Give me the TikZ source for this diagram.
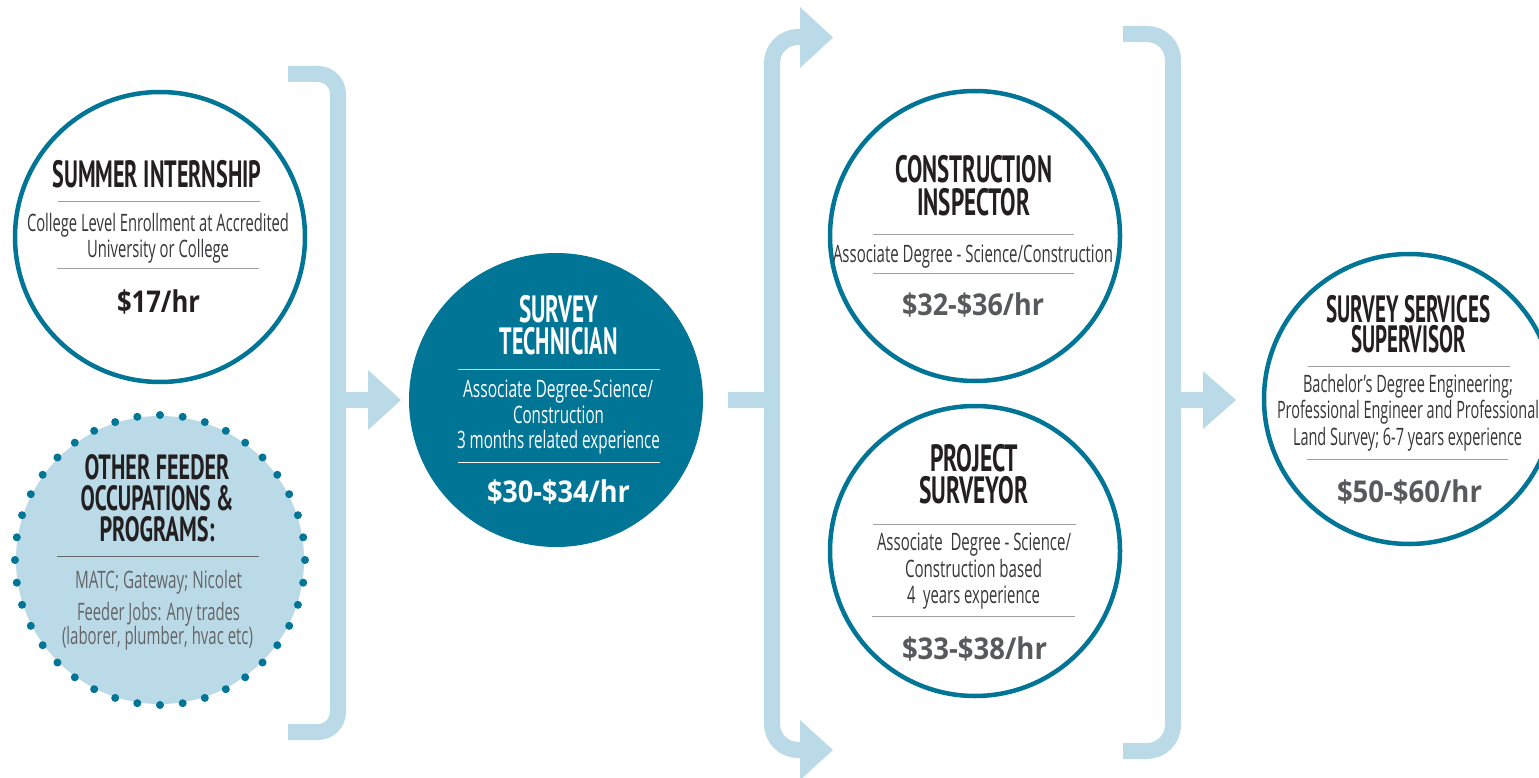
\documentclass[tikz,border=0pt]{standalone}
\usepackage{fontspec}
\usepackage{graphicx}
\newfontfamily\headfont{PT Sans}
\newfontfamily\bodyfont{Open Sans}
\definecolor{teal}{RGB}{0,117,150}
\definecolor{lblue}{RGB}{185,218,230}
\definecolor{headc}{RGB}{35,31,32}
\definecolor{bodyc}{RGB}{55,55,57}
\definecolor{feedc}{RGB}{100,101,104}
\definecolor{pricec}{RGB}{88,89,91}
\definecolor{rulec}{RGB}{160,160,163}
\newsavebox\fitbox
\newlength\fitlen
\newcommand\fitw[2]{\sbox\fitbox{#2}\setlength\fitlen{\wd\fitbox}\pgfmathsetmacro\fitsc{#1/\fitlen}\scalebox{\fitsc}[1]{\usebox\fitbox}}
\tikzset{
  ring/.style={circle, draw=teal, line width=4.5pt, fill=white, inner sep=0pt, minimum size=290pt},
  bar/.style={draw=lblue, line width=16pt, rounded corners=20pt},
  head/.style={fill=lblue},
  hd/.style={anchor=south, inner sep=0pt, text depth=0pt, align=center, text=headc, font={\fontsize{38}{32}\headfont\bfseries}},
  bd/.style={anchor=base, inner sep=0pt, text=bodyc, font={\fontsize{24}{24}\bodyfont}},
  pr/.style={anchor=base, inner sep=0pt, text=pricec, font={\fontsize{30}{30}\bodyfont\bfseries}},
  rl/.style={draw=rulec, line width=1pt}
}
\begin{document}
\begin{tikzpicture}[x=1pt,y=-1pt]
\fill[white] (0,0) rectangle (1539,778);
\useasboundingbox (0,0) rectangle (1539,778);

% ---------- connectors (brackets and arrows) ----------
\coordinate (lbT) at (288,74);
\coordinate (lbB) at (288,732);
\coordinate (lbM) at (338,400);
\coordinate (lbA) at (370,400);
\draw[bar] (lbT) -- (338,74) -- (338,732) -- (lbB);
\draw[bar, rounded corners=0pt] (lbM) -- (lbA);
\fill[head] (368,370) -- (401,400) -- (368,430) -- cycle;

\coordinate (mbT) at (801,37);
\coordinate (mbB) at (801,750);
\coordinate (mbS) at (728,400);
\coordinate (mbM) at (772,400);
\draw[bar, rounded corners=26pt] (mbT) -- (772,37) -- (772,750) -- (mbB);
\draw[bar, rounded corners=0pt] (mbS) -- (mbM);
\fill[head] (800,7) -- (833,37.5) -- (800,68) -- cycle;
\fill[head] (800,720) -- (833,750) -- (800,780) -- cycle;

\coordinate (rbT) at (1123,34);
\coordinate (rbB) at (1123,751);
\coordinate (rbM) at (1173,400);
\coordinate (rbA) at (1205,400);
\draw[bar, rounded corners=26pt] (rbT) -- (1173,34) -- (1173,751) -- (rbB);
\draw[bar, rounded corners=0pt] (rbM) -- (rbA);
\fill[head] (1203,371) -- (1236,400) -- (1203,429) -- cycle;

% ---------- circles ----------
\node[ring] (si) at (160,237) {};
\node[circle, fill=lblue, inner sep=0pt, minimum size=288pt] (fd) at (160,560) {};
\foreach \a in {0,9,...,351} \fill[teal] (fd.center) ++(\a:145) circle[radius=4];
\node[circle, fill=teal, inner sep=0pt, minimum size=294pt] (st) at (556,400) {};
\node[ring] (ci) at (975,236) {};
\node[ring] (ps) at (975,551) {};
\node[ring] (ss) at (1409,399) {};

% ---------- Summer internship ----------
\node[hd] (si-h) at (157,188) {\fitw{209}{SUMMER INTERNSHIP}};
\draw[rl] (58,202) -- (260,202);
\node[bd] (si-b1) at (158,232) {\fitw{262}{College Level Enrollment at Accredited}};
\node[bd] (si-b2) at (158,257) {\fitw{142}{University or College}};
\draw[rl] (57,268) -- (259,268);
\node[pr, text=headc] (si-p) at (158.5,312) {\fitw{83}{\$17/hr}};

% ---------- Feeder ----------
\node[hd, font={\fontsize{35}{31}\headfont\bfseries}] (fd-h) at (157,542)
  {\fitw{145}{OTHER FEEDER}\\\fitw{153}{OCCUPATIONS \&}\\\fitw{115}{PROGRAMS:}};
\draw[draw=feedc, line width=1pt] (57,556) -- (259,556);
\node[bd, text=feedc] (fd-b1) at (158.5,588) {\fitw{167}{MATC; Gateway; Nicolet}};
\node[bd, text=feedc] (fd-b2) at (158.5,620) {\fitw{163}{Feeder Jobs: Any trades}};
\node[bd, text=feedc] (fd-b3) at (157.5,644) {\fitw{191}{(laborer, plumber, hvac etc)}};

% ---------- Survey technician ----------
\node[hd, text=white] (st-h) at (558.5,355) {\fitw{79}{SURVEY}\\\fitw{118}{TECHNICIAN}};
\draw[draw=lblue, line width=1pt] (458,369) -- (660,369);
\node[bd, text=white] (st-b1) at (558,397) {\fitw{190}{Associate Degree-Science/}};
\node[bd, text=white] (st-b2) at (558.5,423) {\fitw{91}{Construction}};
\node[bd, text=white] (st-b3) at (558.5,448) {\fitw{203}{3 months related experience}};
\draw[draw=white, line width=1pt] (458,462) -- (660,462);
\node[pr, text=white] (st-p) at (558.5,502) {\fitw{143}{\$30-\$34/hr}};

% ---------- Construction inspector ----------
\node[hd, font={\fontsize{38}{33}\headfont\bfseries}] (ci-h) at (973.5,216) {\fitw{157}{CONSTRUCTION}\\\fitw{113}{INSPECTOR}};
\draw[rl] (873,234) -- (1074,234);
\node[bd] (ci-b1) at (973,262) {\fitw{280}{Associate Degree - Science/Construction}};
\draw[rl] (873,273) -- (1074,273);
\node[pr] (ci-p) at (973,315) {\fitw{142}{\$32-\$36/hr}};

% ---------- Project surveyor ----------
\node[hd] (ps-h) at (974,504) {\fitw{88}{PROJECT}\\\fitw{109}{SURVEYOR}};
\draw[rl] (873,524) -- (1076,524);
\node[bd] (ps-b1) at (974,550) {\fitw{194}{Associate\ \ Degree - Science/}};
\node[bd] (ps-b2) at (973.5,577) {\fitw{137}{Construction based}};
\node[bd] (ps-b3) at (973.5,603) {\fitw{133}{4\ \ years experience}};
\draw[rl] (872,616) -- (1075,616);
\node[pr] (ps-p) at (974.5,659) {\fitw{145}{\$33-\$38/hr}};

% ---------- Survey services supervisor ----------
\node[hd, font={\fontsize{38}{30}\headfont\bfseries}] (ss-h) at (1408.5,353) {\fitw{164}{SURVEY SERVICES}\\\fitw{115}{SUPERVISOR}};
\draw[rl] (1308,366) -- (1510,366);
\node[bd] (ss-b1) at (1408,392) {\fitw{210}{Bachelor’s Degree Engineering;}};
\node[bd] (ss-b2) at (1408,418) {\fitw{262}{Professional Engineer and Professional}};
\node[bd] (ss-b3) at (1407.5,445) {\fitw{229}{Land Survey; 6-7 years experience}};
\draw[rl] (1307,459) -- (1508,459);
\node[pr] (ss-p) at (1409.5,502) {\fitw{145}{\$50-\$60/hr}};
\end{tikzpicture}
\end{document}
